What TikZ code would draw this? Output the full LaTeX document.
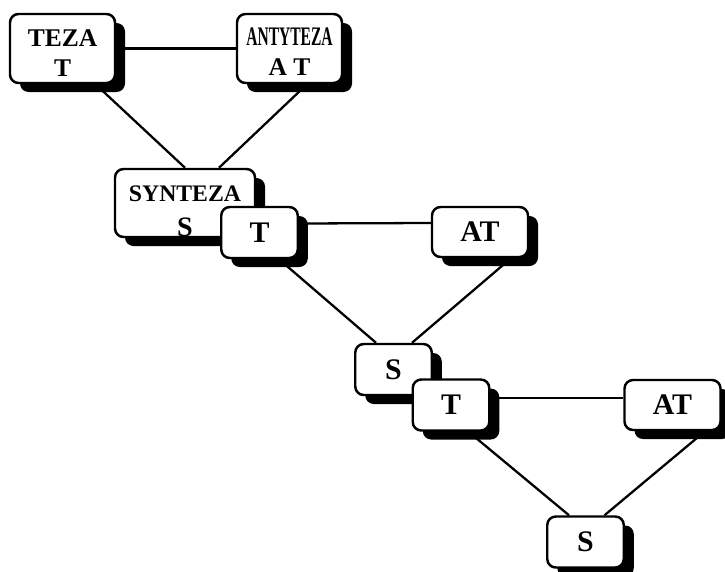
\documentclass[tikz,border=0pt]{standalone}
\usepackage{fontspec}
\setmainfont{Liberation Serif}
\usepackage{tikz}
\usetikzlibrary{shadows}
\usetikzlibrary{backgrounds}

\begin{document}
\begin{tikzpicture}[thick,
  box/.style={draw=black, line width=1.4pt, fill=white, rounded corners=0.17cm,
    align=center, inner sep=0pt,
    drop shadow={shadow xshift=0.2cm, shadow yshift=-0.18cm, fill=black, opacity=1}},
  small/.style={minimum width=1.53cm, minimum height=1.02cm, font=\fontsize{17}{20}\selectfont\bfseries},
  wide/.style={minimum width=1.92cm, minimum height=1.0cm, font=\fontsize{17}{20}\selectfont\bfseries},
  link/.style={black, line width=1.3pt}]
\useasboundingbox (0,0) rectangle (14.5,11.42);
%% first triad
\node[box, minimum width=2.1cm, minimum height=1.38cm, font=\fontsize{14.5}{17}\selectfont\bfseries]
   (teza) at (1.25,10.45) {\rule{0pt}{15pt}TEZA\\T};
\node[box, minimum width=2.1cm, minimum height=1.38cm, font=\fontsize{14.5}{17}\selectfont\bfseries]
   (antyteza) at (5.79,10.45) {\rule{0pt}{14pt}\scalebox{0.61}[1.05]{ANTYTEZA}\\A\ T};
\node[box, minimum width=2.8cm, minimum height=1.36cm, font=\fontsize{13.5}{20}\selectfont\bfseries]
   (synteza) at (3.70,7.36) {\rule{0pt}{18pt}SYNTEZA\\{\fontsize{16}{18}\selectfont S}};
%% second triad
\node[box, small] (t2) at (5.19,6.77) {T};
\node[box, wide] (at2) at (9.60,6.78) {AT};
\node[box, small] (s3) at (7.87,4.03) {S};
%% third triad
\node[box, small] (t3) at (9.02,3.32) {T};
\node[box, wide] (at3) at (13.45,3.32) {AT};
\node[box, small] (s4) at (11.71,0.58) {S};

\begin{scope}[on background layer]
\draw[link] (teza) -- (antyteza);
\draw[link] ([xshift=0.66cm]teza.south) -- (synteza.north);
\draw[link] ([xshift=0.35cm]antyteza.south) -- ([xshift=0.68cm]synteza.north);
\draw[link] ([yshift=0.18cm]t2.east) -- ([yshift=0.18cm]at2.west);
\draw[link] ([xshift=0.39cm]t2.south) -- ([xshift=-0.35cm]s3.north);
\draw[link] ([xshift=0.62cm]at2.south) -- ([xshift=0.37cm]s3.north);
\draw[link] ([yshift=0.14cm]t3.east) -- ([yshift=0.14cm]at3.west);
\draw[link] ([xshift=0.35cm]t3.south) -- ([xshift=-0.33cm]s4.north);
\draw[link] ([xshift=0.65cm]at3.south) -- ([xshift=0.38cm]s4.north);
\end{scope}
\end{tikzpicture}
\end{document}
